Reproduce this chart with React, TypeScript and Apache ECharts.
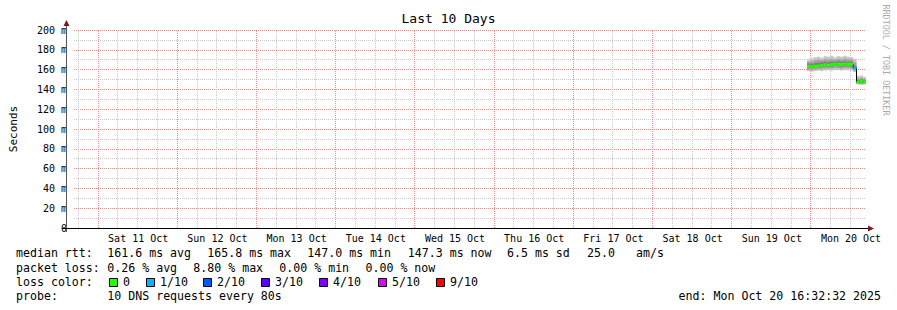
import React, { useEffect, useRef } from "react";
import * as echarts from "echarts";

const FONT = '"DejaVu Sans Mono", monospace';

const START = Date.UTC(2025, 9, 10, 16, 32, 32);
const END = Date.UTC(2025, 9, 20, 16, 32, 32);

// X axis labels (placed at noon of each day)
const dayLabels = [
  "Sat 11 Oct", "Sun 12 Oct", "Mon 13 Oct", "Tue 14 Oct", "Wed 15 Oct",
  "Thu 16 Oct", "Fri 17 Oct", "Sat 18 Oct", "Sun 19 Oct", "Mon 20 Oct",
];
const dayDates = [
  "2025-10-11", "2025-10-12", "2025-10-13", "2025-10-14", "2025-10-15",
  "2025-10-16", "2025-10-17", "2025-10-18", "2025-10-19", "2025-10-20",
];
// grid hours within a day (00:00 = major line)
const gridHours = ["00:00", "06:00", "12:00", "18:00"];

// Sample times
const sampleTimes = [
  "2025-10-19T22:40:00Z", "2025-10-19T23:40:00Z", "2025-10-20T00:40:00Z",
  "2025-10-20T01:40:00Z", "2025-10-20T02:40:00Z", "2025-10-20T03:40:00Z",
  "2025-10-20T04:40:00Z", "2025-10-20T05:40:00Z", "2025-10-20T06:40:00Z",
  "2025-10-20T07:40:00Z", "2025-10-20T08:40:00Z", "2025-10-20T09:40:00Z",
  "2025-10-20T10:40:00Z", "2025-10-20T11:40:00Z", "2025-10-20T12:40:00Z",
  "2025-10-20T13:40:00Z", "2025-10-20T14:40:00Z", "2025-10-20T15:40:00Z",
];
// median rtt in ms
const medianRtt = [163.4, 163.0, 163.3, 163.6, 164.2, 164.8, 164.5, 165.0, 165.3, 165.6, 165.2, 165.6, 165.5, 165.4, 161.8, 147.5, 148.6, 147.3];
// loss (out of 10)
const lossCount = [0, 0, 0, 0, 0, 0, 0, 0, 0, 0, 0, 0, 0, 0, 1, 0, 0, 0];
// smoke bands (ms)
const smokeOuterHi = [170, 171.5, 172.5, 173, 172, 173.5, 173, 174, 172.5, 173.5, 173, 174, 173, 172.5, 171, 153.5, 154, 152.5];
const smokeOuterLo = [158.5, 158, 158.5, 159, 158.5, 159, 159.5, 159, 159.5, 159.5, 159, 159.5, 159.5, 159, 157.5, 145, 144.5, 145];
const smokeMidHi = [167.5, 168.5, 169.5, 170, 169.5, 170.5, 170, 170.5, 170, 170.5, 170, 171, 170.5, 170, 167, 151, 151.5, 150.5];
const smokeMidLo = [160, 159.5, 160, 160.5, 160.5, 161, 161, 161, 161.5, 161.5, 161, 161.5, 161.5, 161, 159, 145.5, 145.5, 146];
const smokeInHi = [166, 166, 166.5, 167, 167.5, 168, 167.5, 168, 168, 168.5, 168, 168.5, 168, 168, 164, 149.5, 150, 149];
const smokeInLo = [161.5, 161.5, 162, 162, 162.5, 163, 163, 163, 163.5, 163.5, 163, 163.5, 163.5, 163, 160.5, 146.5, 147, 146.5];

const lossLabels = ["0", "1/10", "2/10", "3/10", "4/10", "5/10", "9/10"];
const lossColors = ["#26ff00", "#00b8ff", "#0059ff", "#5e00ff", "#7e00ff", "#dd00ff", "#ff0000"];
const lossLevels = [0, 1, 2, 3, 4, 5, 9];

const rttPieces = ["median rtt:", "161.6 ms avg", "165.8 ms max", "147.0 ms min", "147.3 ms now", "6.5 ms sd", "25.0", "am/s"];
const lossPieces = ["packet loss:", "0.26 % avg", "8.80 % max", "0.00 % min", "0.00 % now"];
const lossColorTitle = "loss color:";
const probePieces = ["probe:", "10 DNS requests every 80s"];
const endText = "end: Mon Oct 20 16:32:32 2025";

// layout (pixel positions of the legend text pieces)
const rttX = [16, 107.3, 207.3, 307.3, 407.8, 507, 587, 636];
const lossX = [16, 107.3, 193.3, 279.3, 365.5];
const probeX = [16, 107.3];
const boxX = [109, 146, 203, 261, 319, 378, 436];
const lineY = [253, 267.5, 282, 296];

const MAJOR_COLOR = "#ff8a8a";
const MINOR_COLOR = "#c8c8c8";

function lossColor(l: number): string {
  let c = lossColors[0];
  for (let i = 0; i < lossLevels.length; i++) if (l >= lossLevels[i]) c = lossColors[i];
  return c;
}

export default function App() {
  const ref = useRef<HTMLDivElement>(null);
  useEffect(() => {
    document.body.style.margin = "0";
    const chart = echarts.init(ref.current!, null, { renderer: "svg" });

    const times = sampleTimes.map((s) => Date.parse(s));
    const tEnd = (i: number) => (i + 1 < times.length ? times[i + 1] : END);
    const band = (lo: number[], hi: number[]) => times.map((t, i) => [t, tEnd(i), lo[i], hi[i]]);

    const noonTimes = dayDates.map((d) => Date.parse(d + "T12:00:00Z"));
    const labelMap: Record<string, string> = {};
    noonTimes.forEach((t, i) => (labelMap[String(t)] = dayLabels[i]));

    const gridData: number[][] = [];
    ["2025-10-10", ...dayDates].forEach((d) =>
      gridHours.forEach((h, hi) => {
        const t = Date.parse(d + "T" + h + ":00Z");
        if (t > START && t < END) gridData.push([t, hi === 0 ? 1 : 0]);
      })
    );

    const bandSeries = (lo: number[], hi: number[], color: string, z: number) => ({
      type: "custom",
      z,
      silent: true,
      data: band(lo, hi),
      encode: { x: [0, 1], y: [2, 3] },
      renderItem: (params: any, api: any) => {
        const a = api.coord([api.value(0), api.value(3)]);
        const b = api.coord([api.value(1), api.value(2)]);
        return {
          type: "rect",
          shape: { x: a[0], y: a[1], width: b[0] - a[0], height: b[1] - a[1] },
          style: { fill: color },
        };
      },
    });

    const medianData = times.map((t, i) => [t, tEnd(i), medianRtt[i], lossCount[i]]);
    const stepData = times.map((t, i) => [t, medianRtt[i]]);
    stepData.push([END, medianRtt[medianRtt.length - 1]]);

    const txt = (s: string, x: number, y: number, align = "left") => ({
      type: "text",
      x,
      y,
      style: { text: s, font: `11.6px ${FONT}`, fill: "#000", verticalAlign: "middle", align },
    });

    const graphics: any[] = [];
    // axis lines and arrows
    graphics.push({ type: "line", shape: { x1: 66.5, y1: 232, x2: 66.5, y2: 24 }, style: { stroke: "#555", lineWidth: 1 }, z: 10 });
    graphics.push({ type: "line", shape: { x1: 62, y1: 228.5, x2: 870, y2: 228.5 }, style: { stroke: "#000", lineWidth: 1 }, z: 10 });
    graphics.push({ type: "polygon", shape: { points: [[63.5, 26], [69.5, 26], [66.5, 20]] }, style: { fill: "#7a1a1a" }, z: 10 });
    graphics.push({ type: "polygon", shape: { points: [[868, 225.5], [868, 231.5], [874, 228.5]] }, style: { fill: "#7a1a1a" }, z: 10 });
    // stats text
    rttPieces.forEach((s, i) => graphics.push(txt(s, rttX[i], lineY[0])));
    lossPieces.forEach((s, i) => graphics.push(txt(s, lossX[i], lineY[1])));
    graphics.push(txt(lossColorTitle, 16, lineY[2]));
    probePieces.forEach((s, i) => graphics.push(txt(s, probeX[i], lineY[3])));
    graphics.push(txt(endText, 881, lineY[3], "right"));
    lossLabels.forEach((lab, i) => {
      graphics.push({
        type: "rect",
        shape: { x: boxX[i] + 0.5, y: 278.5, width: 8, height: 8 },
        style: { fill: lossColors[i], stroke: "#000", lineWidth: 1 },
      });
      graphics.push(txt(lab, boxX[i] + 14, lineY[2]));
    });
    // watermark
    graphics.push({
      type: "text",
      x: 886,
      y: 60,
      rotation: -Math.PI / 2,
      style: { text: "RRDTOOL / TOBI OETIKER", font: `8.4px ${FONT}`, fill: "#aaa", verticalAlign: "middle", align: "center" },
    });

    chart.setOption({
      animation: false,
      backgroundColor: "#fff",
      title: {
        text: "Last 10 Days",
        left: "center",
        top: 7,
        textStyle: { fontFamily: FONT, fontSize: 13, fontWeight: "normal", color: "#000" },
      },
      grid: { left: 66, right: 31, top: 30, bottom: 82, containLabel: false },
      xAxis: {
        type: "value",
        min: START,
        max: END,
        axisLine: { show: false },
        axisTick: { show: false },
        splitLine: { show: false },
        axisLabel: {
          customValues: noonTimes,
          formatter: (v: number) => labelMap[String(v)] ?? "",
          fontFamily: FONT,
          fontSize: 10,
          color: "#000",
          margin: 5,
        },
      },
      yAxis: {
        type: "value",
        min: 0,
        max: 200,
        interval: 20,
        name: "Seconds",
        nameLocation: "middle",
        nameRotate: 90,
        nameGap: 55,
        nameTextStyle: { fontFamily: FONT, fontSize: 11, color: "#000" },
        axisLine: { show: false },
        axisTick: { show: false },
        axisLabel: {
          formatter: (v: number) => (v === 0 ? "0" : v + " m"),
          fontFamily: FONT,
          fontSize: 10,
          color: "#000",
          margin: 7,
        },
        splitLine: { show: true, lineStyle: { color: MAJOR_COLOR, type: [1, 1] } },
        minorTick: { show: false, splitNumber: 2 },
        minorSplitLine: { show: true, lineStyle: { color: MINOR_COLOR, type: [1, 1] } },
      },
      graphic: graphics,
      series: [
        {
          type: "custom",
          z: 1,
          silent: true,
          data: gridData,
          dimensions: ["t", "major"],
          encode: { x: 0 },
          renderItem: (params: any, api: any) => {
            const t = api.value(0);
            const major = api.value(1) === 1;
            const p0 = api.coord([t, 0]);
            const p1 = api.coord([t, 200]);
            const x = Math.round(p0[0]) - 0.5;
            return {
              type: "line",
              shape: { x1: x, y1: p0[1], x2: x, y2: p1[1] },
              style: { stroke: major ? MAJOR_COLOR : MINOR_COLOR, lineWidth: 1, lineDash: [1, 1], fill: null },
              z2: major ? 2 : 1,
            };
          },
        },
        bandSeries(smokeOuterLo, smokeOuterHi, "#c4c4c4", 2),
        bandSeries(smokeMidLo, smokeMidHi, "#a0a0a0", 3),
        bandSeries(smokeInLo, smokeInHi, "#7c7c7c", 4),
        {
          type: "line",
          z: 5,
          silent: true,
          step: "end",
          symbol: "none",
          data: stepData,
          lineStyle: { color: "#000", width: 1 },
        },
        {
          type: "custom",
          z: 6,
          silent: true,
          data: medianData,
          encode: { x: [0, 1], y: 2 },
          renderItem: (params: any, api: any) => {
            const a = api.coord([api.value(0), api.value(2)]);
            const b = api.coord([api.value(1), api.value(2)]);
            return {
              type: "rect",
              shape: { x: a[0], y: a[1] - 1.5, width: b[0] - a[0], height: 3 },
              style: { fill: lossColor(api.value(3)) },
            };
          },
        },
      ],
    });
    return () => chart.dispose();
  }, []);
  return <div ref={ref} style={{ position: "absolute", left: 0, top: 0, width: 897, height: 310 }} />;
}
